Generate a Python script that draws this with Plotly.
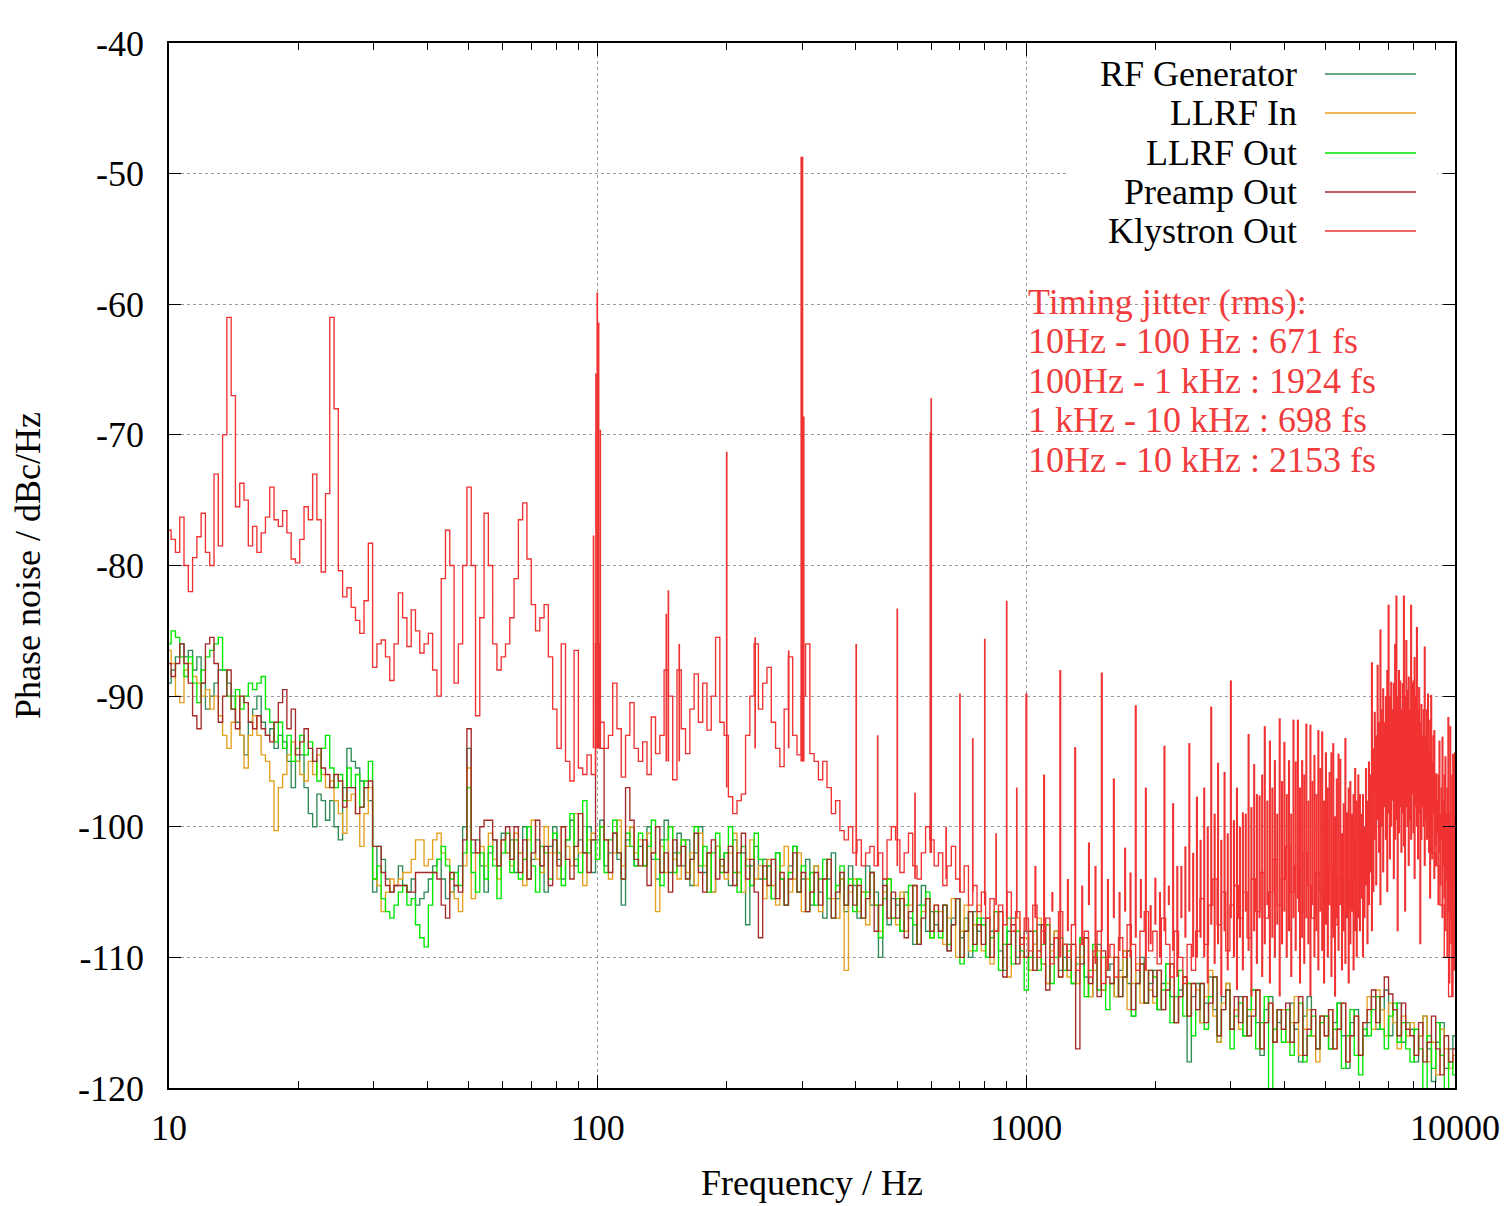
import plotly.graph_objects as go

# ---------------- data ----------------
# frequency grid (Hz): 0.01-decade steps, 10 Hz .. 10 kHz (301 points)
freq = [round(10 ** (1 + k / 100), 4) for k in range(301)]

rf_generator = [
 -89, -88, -87, -86, -87, -86.5, -88, -87, -89, -91,
 -90, -89, -88, -88, -89, -90, -92, -93, -94.5, -92,
 -91, -90, -92, -93, -92.5, -94, -93, -93.5, -95, -97,
 -95, -94.5, -97, -99, -100, -97.5, -98, -99.5, -98, -100,
 -101, -97, -94, -95, -95.5, -96.5, -97, -98, -105, -101.5,
 -102.5, -104, -105, -104.5, -103, -104.5, -105, -104, -106, -105.5,
 -105, -104, -103, -102.5, -104, -105.5, -105, -104.5, -103, -100,
 -94, -102, -101, -103, -105, -102, -101, -103, -100.5, -102,
 -101, -103.5, -102, -100, -104, -102.5, -101, -103, -105, -101.5,
 -100, -102.5, -104, -101, -99.5, -103, -101, -102, -100, -103.5,
 -101, -99.5, -103, -102, -100.5, -102.5, -106, -101, -100, -103,
 -101.5, -103, -100, -102.5, -104, -101, -99.5, -103.5, -102, -100.5,
 -103, -101, -104.5, -102, -100, -103.5, -102, -105, -101.5, -103,
 -102, -104.5, -101, -103.5, -102, -107.5, -103, -101.5, -104, -102.5,
 -103, -105.5, -102, -104, -106, -103, -101.5, -105, -104, -102.5,
 -106, -103, -105, -107, -104, -102, -105.5, -104, -106.5, -103,
 -104.5, -107, -105, -103, -106, -105, -110, -104, -107.5, -105.5,
 -106, -108, -105, -107, -109, -106, -104.5, -108, -106.5, -107.5,
 -108, -106, -109.5, -107, -105.5, -108.5, -107, -110, -106.5, -108,
 -107, -110, -108, -106.5, -109.5, -111, -108, -107, -110, -109,
 -108, -111, -109, -107.5, -110.5, -112, -109, -108, -111, -110,
 -109, -112, -110, -108.5, -111.5, -113, -110, -109, -112.5, -111,
 -110.5, -113, -111, -109.5, -112, -114.5, -111, -110, -113.5, -112,
 -111, -114, -112, -110.5, -113, -115, -112.5, -111.5, -118, -113,
 -112, -115, -113.5, -111.5, -114, -116.5, -113, -112, -115.5, -114,
 -113, -116, -114.5, -112.5, -115, -117.5, -114, -113, -116.5, -115,
 -114, -116.5, -113.5, -115.5, -118, -114.5, -113, -116, -117, -114.5,
 -114.5, -117, -115, -113.5, -116, -118.5, -115, -114, -117.5, -116,
 -115, -113, -115.5, -114, -112.5, -116, -114, -113.5, -116.5, -115,
 -115.5, -118, -116, -114.5, -117, -119.5, -116.5, -115, -118.5, -117,
 -116]

llrf_in = [
 -86.5, -87.5, -90, -90.5, -88, -87.5, -88.5, -89, -90, -89.5,
 -91, -90, -91.5, -93, -94, -92, -90, -93, -95.5, -93,
 -91.5, -93, -94.5, -95, -96.5, -100.3, -97, -96, -94.5, -93.5,
 -95, -96, -96.5, -95, -96, -94.5, -96, -97, -96.5, -98,
 -99, -100.5, -98, -97.5, -99, -101.5, -99, -97, -104, -104.5,
 -106.5, -105, -104, -104.5, -104, -103.5, -103.5, -102.5, -101, -101,
 -103, -102.5, -101, -100.5, -102, -102.5, -105, -105.5, -106.5, -103,
 -95.5, -105.5, -102, -101.5, -103, -100.5, -102.5, -104, -101, -102,
 -103, -100.5, -102, -104.5, -101, -99.5, -102.5, -103.5, -100, -102,
 -102, -104, -100, -101.5, -103, -99, -102, -104.5, -101, -100.5,
 -102.5, -100, -101, -104, -102, -99.5, -103, -101.5, -100, -102,
 -101, -103, -100.5, -102, -106.5, -101.5, -103.5, -100, -102.5, -104,
 -101, -103.5, -102, -104.5, -100.5, -103, -102, -105, -101.5, -103,
 -104, -102, -100.5, -103.5, -105, -102.5, -101, -104, -103, -105.5,
 -102.5, -104.5, -106, -103, -101.5, -105, -104, -102, -106.5, -104,
 -105, -103, -106.5, -104, -102.5, -105.5, -107, -104, -111, -105,
 -104, -106.5, -105, -107.5, -103.5, -106, -108, -105, -104, -107,
 -107.5, -105, -108, -106, -104.5, -109, -106.5, -105.5, -108.5, -106,
 -106.5, -109, -107, -105.5, -110, -108, -106, -109.5, -107.5, -106,
 -109.5, -107, -110.5, -108, -106.5, -109, -111.5, -108, -107, -110,
 -108.5, -111, -109, -107, -110.5, -112, -109.5, -108, -111.5, -109,
 -111.5, -109, -112, -110, -108.5, -113, -111, -109.5, -112.5, -110,
 -110, -113, -111.5, -109.5, -114, -112, -110.5, -113.5, -111, -112.5,
 -113.5, -111, -114, -112, -110.5, -115, -113, -111.5, -114.5, -112,
 -112.5, -115, -113, -111, -114.5, -116.5, -113.5, -112, -115.5, -114,
 -115.5, -113, -116, -114, -112.5, -117, -115, -113.5, -116.5, -114,
 -114, -116.5, -115, -113, -117.5, -115.5, -114, -116, -118, -114.5,
 -116, -114, -117, -115.5, -113.5, -118, -116, -114.5, -117.5, -115,
 -113, -115.5, -112.5, -114, -116, -113.5, -115, -117, -114.5, -116,
 -115, -117.5, -116, -114.5, -118, -116.5, -119, -115.5, -117, -118.5,
 -117.5]

llrf_out = [
 -86, -85, -85.5, -87, -88.5, -87, -89, -90.5, -88, -87,
 -86.5, -86, -85.5, -88, -90, -91, -89.5, -91, -90, -89,
 -89.5, -89, -88.5, -91, -92, -93.5, -92, -94, -93, -95,
 -94, -93, -94.5, -93.5, -95, -96.5, -94, -93, -95.5, -97,
 -96, -98, -95.5, -97, -96, -98.5, -96.5, -95, -104, -103,
 -105.5, -106.5, -107, -106, -105, -104.5, -106, -105.5, -107.5, -108.5,
 -109.2, -106, -103.5, -102.5, -101.5, -103, -104, -103.5, -104.5, -102,
 -97, -103.5, -105, -102, -104, -101.5, -103, -105.5, -102, -100.5,
 -103.5, -101, -104, -102.5, -100, -103, -105, -101.5, -102, -104,
 -100.5, -102, -104.5, -101, -99, -102.5, -103.5, -98, -102, -101,
 -102.5, -100, -103.5, -101, -99.5, -102, -104, -100.5, -101.5, -103,
 -100.5, -103, -101.5, -99.5, -102.5, -104.5, -101, -100, -103.5, -102,
 -101, -104, -102.5, -100, -103, -101.5, -105, -102, -100.5, -103.5,
 -102, -100, -103.5, -105, -101.5, -103, -104.5, -100.5, -102.5, -104,
 -103, -105.5, -102, -104, -106, -103.5, -101.5, -105, -103, -106.5,
 -103.5, -106, -104, -102.5, -105.5, -107, -104.5, -103, -106, -104,
 -106.5, -104, -107, -105, -103.5, -106, -108.5, -105.5, -104, -107,
 -105.5, -108, -106, -104.5, -107.5, -109, -106, -105, -108.5, -106.5,
 -108.5, -106, -109, -107.5, -105.5, -110.5, -108, -106.5, -109.5, -107,
 -107.5, -110, -108.5, -106.5, -111, -109, -107, -110.5, -108, -109.5,
 -112.5, -110, -108, -111, -109, -107.5, -112, -110, -108.5, -111,
 -109.5, -112, -110.5, -108.5, -113, -111, -109, -112.5, -110, -114,
 -112, -110, -113, -111.5, -109.5, -114.5, -112, -110.5, -113.5, -111,
 -111.5, -114, -112.5, -110.5, -115, -113, -111, -114.5, -112, -116,
 -114, -112, -115.5, -113, -111.5, -116, -114, -112.5, -117, -114.5,
 -113.5, -116, -114, -112.5, -117, -115, -113, -121, -115.5, -114,
 -116.5, -114, -117.5, -115, -113.5, -118, -116, -114.5, -117, -115,
 -114.5, -117, -115.5, -113.5, -118.5, -116, -114, -117.5, -119, -115.5,
 -116, -114, -113, -115.5, -117, -114.5, -113.5, -116.5, -115, -117,
 -118, -115.5, -117, -121, -116, -118.5, -115, -117.5, -121, -118,
 -119]

preamp_out = [
 -87.5, -88.5, -87.5, -86, -87.5, -89, -91.5, -92.5, -89, -86,
 -85.5, -87.5, -92, -90, -88, -91, -92.5, -90, -90.5, -92,
 -92.5, -91.5, -92.5, -93, -93.5, -92, -90.5, -89.5, -92.5, -91,
 -94.5, -93.5, -92.5, -94, -95, -94, -95.5, -96, -97, -96,
 -96.5, -98.5, -97, -97, -99, -98.5, -97, -96.5, -101.5, -101.5,
 -103.5, -104.5, -105, -104.5, -104.5, -104.5, -105, -105, -103.5, -103.5,
 -103.5, -103.5, -103.5, -104, -106, -107, -103.5, -104.5, -105, -101,
 -92.5, -101, -102, -100, -99.5, -99.5, -101, -103, -101, -100,
 -102.5, -100, -103.5, -101, -104, -102, -99.5, -103, -101.5, -104.5,
 -101, -103, -100, -102.5, -104, -101.5, -99, -102, -103.5, -101,
 -86, -94, -101, -103.5, -100.5, -102, -104, -97, -99.5, -102.5,
 -103, -101, -104.5, -102, -100, -103.5, -102, -105, -101, -103,
 -101.5, -104, -102.5, -100.5, -103.5, -105, -102, -101, -104, -102.5,
 -103.5, -101.5, -104.5, -102, -100.5, -104, -102.5, -105, -108.5, -103,
 -104.5, -102.5, -105.5, -103.5, -106, -104, -102, -105, -103.5, -106.5,
 -105, -103.5, -106, -104, -102.5, -107, -105, -103.5, -106, -104.5,
 -106, -104.5, -107, -105.5, -103.5, -108, -106, -104.5, -107, -105,
 -107, -105.5, -108.5, -106.5, -104.5, -109, -107, -105.5, -108, -106,
 -108, -106, -109.5, -107.5, -105.5, -110, -108, -106.5, -109, -107.5,
 -109, -107, -110, -108, -106.5, -111.5, -109, -107.5, -110.5, -108.5,
 -110, -108, -111, -109.5, -107.5, -112.5, -110, -108.5, -111.5, -109,
 -111, -109, -117, -110.5, -108.5, -112, -110, -113, -109.5, -111.5,
 -112, -110, -113, -111.5, -109.5, -114, -112, -110.5, -113.5, -111,
 -113, -111, -114, -112.5, -110.5, -115, -113, -111.5, -114.5, -112,
 -114, -112, -115, -113.5, -111.5, -116, -114, -112.5, -115.5, -113,
 -115, -113, -116, -114.5, -112.5, -117, -115, -113.5, -116.5, -114,
 -115.5, -113.5, -116.5, -115, -113, -117.5, -115.5, -114, -117, -114.5,
 -116, -114, -117, -115.5, -113.5, -118, -116, -114.5, -117.5, -115,
 -114, -112.5, -115, -113, -111.5, -112.8, -114, -116, -113.5, -115.5,
 -116, -117.5, -115, -118, -116.5, -114.5, -117, -119, -116, -118,
 -117]

klystron_out = [
 -77.3, -78, -79, -76.3, -80, -82, -79.4, -77.8, -76, -79,
 -80, -73, -78.5, -70, -61, -67, -75.5, -73.7, -75, -78.5,
 -77, -79, -77.5, -76.3, -74, -76.5, -77, -75.8, -77.5, -79.5,
 -79.8, -78, -75.5, -76.5, -73, -76.5, -80.5, -74.5, -61, -68,
 -80.4, -82.4, -81.7, -83.2, -84.2, -85.2, -82.7, -78.3, -87.8, -86,
 -85.7, -87, -88.8, -86, -82.1, -84, -86.2, -83.4, -85, -86.7,
 -86, -85.2, -88, -90, -81, -77.3, -80, -89, -86, -80,
 -74, -80, -91.5, -84, -76, -80, -86, -88, -87, -86,
 -84, -81, -76.5, -75.2, -79.5, -83, -85, -84, -83, -87,
 -91, -94, -86, -95, -96.5, -86.5, -95.5, -96, -94.5, -96,
 -93, -92, -94, -93, -89, -92.5, -96.2, -93, -90.5, -94,
 -95, -93.5, -96, -91.6, -94.4, -93, -88, -90, -96.4, -88,
 -92.5, -94.4, -91, -88.3, -92, -89, -92.6, -90, -85.5, -92,
 -93, -97.7, -99, -98, -97.5, -93, -90, -86, -91, -89,
 -87.8, -92, -94, -95.4, -91, -87, -93, -94.5, -90, -86,
 -94.4, -95, -96.4, -95, -97, -99, -98, -100.3, -101, -100,
 -102, -101, -103, -102, -101.5, -103, -102, -104, -101, -100,
 -101, -103.5, -102, -100.5, -103, -104, -102, -100, -101, -103,
 -102, -104.5, -103, -101.5, -104, -105, -103, -106, -104.5, -106.5,
 -105, -107, -105.5, -108, -106, -107.5, -105, -108, -106.5, -109,
 -107, -109.5, -106, -110, -108, -107, -110.5, -108.5, -106.5, -109,
 -110, -107.5, -111, -109, -108, -111.5, -109.5, -108, -112, -110,
 -109, -111.5, -108.5, -110, -107.5, -109, -111, -108, -106.5, -109.5,
 -108, -110.5, -107, -109, -111.5, -108, -110, -112, -109, -111,
 -108, -105.5, -109, -106, -104, -107.5, -105, -109.5, -106, -104.5,
 -107, -105, -108.5, -104, -106.5, -103.5, -107, -105, -102.5, -106,
 -104, -101.5, -105, -103, -106.5, -102, -104.5, -107, -103.5, -105,
 -106, -103, -107.5, -104, -102.5, -106, -104, -101, -103.5, -100.5,
 -99, -97, -95, -96.5, -93.5, -95, -92.5, -94, -93, -95.5,
 -94, -96.5, -98, -97, -100, -102, -103, -106, -110, -113,
 -104]

# Klystron narrow lines below 1 kHz (Hz, top dB, foot dB)
kly_line_f = [97.8, 99.1, 99.8, 100.5, 101.4, 144.6, 146.2, 155, 200, 233, 279,
              298.5, 300.5, 302.5, 401, 450, 500, 550, 597, 600, 650, 700, 750,
              800, 850, 900, 950]
kly_line_top = [-77.7, -65.3, -59.1, -61.4, -69.6, -83.7, -81.9, -86, -71.3, -85.5, -86.5,
                -48.7, -48.7, -68.6, -86, -93, -83.3, -97.4, -69.8, -67.2, -100, -89.8, -93.2,
                -85.6, -100.5, -82.7, -97]
kly_line_bot = [-94, -94, -94, -94, -94, -95, -95, -95, -97, -94, -94,
                -95, -95, -95, -103, -103, -103, -104, -102, -102, -104, -105, -105,
                -106, -106, -107, -107]

# Klystron 50 Hz harmonic lines, 1 kHz .. 10 kHz
kly_hf_f = list(range(1000, 10001, 50))
kly_hf_top = [
 -89.8, -103, -96, -105, -88, -104, -93.9, -104.5, -101.2, -103,
 -88.2, -104, -96.3, -105, -101.6, -103.5, -90.7, -104, -97, -106,
 -103.9, -105, -93.8, -104.5, -98.2, -103, -103, -101.5, -93.6, -102,
 -97.7, -101, -97, -100, -90.8, -99, -95.1, -101, -95.8, -100.5,
 -88.8, -99.5, -97, -100, -98.9, -99, -92.9, -98.5, -95.2, -97.5,
 -97.6, -96, -92.3, -98, -93.4, -97, -94.9, -99, -91.7, -96.5,
 -93.5, -97.5, -94.9, -99, -91.8, -95, -91.8, -97, -94.9, -96,
 -92.1, -98, -92.2, -96.5, -94.5, -97.5, -92.6, -95.5, -92.7, -98,
 -94.3, -97, -95.8, -94.3, -93.6, -99.2, -96.3, -94.4, -94.8, -100.5,
 -98.2, -93.2, -98.9, -97, -96.5, -99, -97.5, -95.5, -98, -96,
 -97.5, -99, -97.5, -100, -95.5, -98, -95, -96, -87.4, -94,
 -91.2, -93, -87.6, -92, -84.9, -91, -89.4, -92, -90, -88,
 -83, -90, -88.9, -91, -89, -86, -82.3, -90, -88, -88.8,
 -91, -89, -82.3, -90, -85.7, -89.5, -88.5, -91, -83, -89,
 -88.8, -87, -90, -84.7, -91, -89.3, -92, -90.6, -93, -91,
 -86.2, -93, -91, -89.8, -94, -91.8, -89.9, -95, -93, -92.6,
 -96, -95.9, -98, -96, -93.4, -99, -97, -93.1, -98, -96,
 -94.6, -99, -97, -91.6, -99, -92.3, -100, -96, -94.4, -98, -94.3]
kly_hf_bot = [
 -108, -107, -109, -106.5, -110, -108, -107.5, -109, -106, -110.5,
 -108, -111, -107, -109.5, -106.5, -110, -108.5, -107, -111, -109,
 -107.5, -110, -108, -106, -109.5, -111.5, -107, -108.5, -106.5, -110,
 -110, -108.5, -110, -112, -107.5, -110.5, -109, -113, -108, -111,
 -107, -110, -112.5, -108.5, -111, -106.5, -109.5, -113, -108, -110.5,
 -107, -111.5, -109, -106, -112, -108.5, -110, -107.5, -113, -109,
 -106.5, -110, -108, -111.5, -107, -109.5, -105.5, -112, -108.5, -110.5,
 -107, -109, -113, -106, -110, -108, -111, -106.5, -109.5, -112,
 -107.5, -110, -106, -111.5, -108.5, -113, -107, -109.5, -106, -111,
 -108, -110.5, -107, -112, -109, -106.5, -111, -108, -110, -107,
 -108, -105.5, -110, -107, -104.5, -109, -106, -103.5, -108, -105,
 -101, -104.5, -99.5, -102, -106, -100, -103.5, -98.5, -101, -105,
 -99, -102.5, -100, -98, -104, -101, -99.5, -108, -100.5, -98.5,
 -102, -99, -101.5, -106.5, -98.5, -100, -103, -99.5, -101, -97.5,
 -100.5, -104, -98.5, -100, -102.5, -99, -109, -101, -98.5, -100,
 -103, -99.5, -101, -98, -102, -105.5, -100, -102.5, -99, -104,
 -101.5, -103, -100.5, -106, -102, -104.5, -101, -107, -103, -105.5,
 -108, -104, -110, -106.5, -112, -107, -109, -113, -105, -111, -104]

legend_names = ["RF Generator", "LLRF In", "LLRF Out", "Preamp Out", "Klystron Out"]
colors = ["#2e8b57", "#e6a020", "#00e800", "#a52a2a", "#f03232"]
jitter_lines = ["Timing jitter (rms):", "10Hz - 100 Hz : 671 fs",
                "100Hz - 1 kHz : 1924 fs", "1 kHz - 10 kHz : 698 fs",
                "10Hz - 10 kHz : 2153 fs"]
x_ticks = [10, 100, 1000, 10000]
x_ticktext = ["10", "100", "1000", "10000"]
y_ticks = [-120, -110, -100, -90, -80, -70, -60, -50, -40]
y_ticktext = ["-120", "-110", "-100", "-90", "-80", "-70", "-60", "-50", "-40"]

series = [rf_generator, llrf_in, llrf_out, preamp_out, klystron_out]
for nm, s in zip(legend_names, series):
    assert len(s) == len(freq), (nm, len(s))
assert len(kly_hf_top) == len(kly_hf_f) == len(kly_hf_bot), (len(kly_hf_top), len(kly_hf_bot))
assert len(kly_line_f) == len(kly_line_top) == len(kly_line_bot)

# ---------------- figure ----------------
FONT = "Liberation Serif"
fig = go.Figure()
for nm, s, c in zip(legend_names, series, colors):
    fig.add_trace(go.Scatter(x=freq, y=s, mode="lines", name=nm,
                             line=dict(color=c, width=1.35, shape="hvh"),
                             showlegend=False, legendgroup=nm))

lx, ly = [], []
for f, b, t in zip(kly_line_f, kly_line_bot, kly_line_top):
    lx += [f, f, None]
    ly += [b, t, None]
fig.add_trace(go.Scatter(x=lx, y=ly, mode="lines", name="Klystron Out",
                         line=dict(color=colors[4], width=1.7),
                         showlegend=False, legendgroup="Klystron Out"))
hx, hy = [], []
for f, b, t in zip(kly_hf_f, kly_hf_bot, kly_hf_top):
    hx += [f, f, None]
    hy += [b, t, None]
fig.add_trace(go.Scatter(x=hx, y=hy, mode="lines", name="Klystron Out",
                         line=dict(color=colors[4], width=2.1),
                         showlegend=False, legendgroup="Klystron Out"))

L, R, T, B = 169, 53, 43, 118
W, H = 1508, 1206
pw, ph = W - L - R, H - T - B
def px(x):
    return (x - L) / pw
def py(y):
    return (H - B - y) / ph

# white key box (hides the grid behind the key), then key samples
shapes = [dict(type="rect", xref="paper", yref="paper", x0=px(1067), x1=px(1437),
               y0=py(252), y1=py(55), fillcolor="white", line=dict(width=0), layer="above")]
annotations = []
leg_y = [74, 113, 153, 192, 231]
for nm, c, yy in zip(legend_names, colors, leg_y):
    annotations.append(dict(xref="paper", yref="paper", x=px(1299), y=py(yy), text=nm,
                            showarrow=False, xanchor="right", yanchor="middle",
                            font=dict(family=FONT, size=36, color="black")))
    shapes.append(dict(type="line", xref="paper", yref="paper", x0=px(1325), x1=px(1416),
                       y0=py(yy), y1=py(yy), line=dict(color=c, width=1.5), layer="above"))
jit_y = [302, 341, 381, 420, 460]
for txt, yy in zip(jitter_lines, jit_y):
    annotations.append(dict(xref="paper", yref="paper", x=px(1026), y=py(yy), text=txt,
                            showarrow=False, xanchor="left", yanchor="middle",
                            font=dict(family=FONT, size=36, color="#f03c3c")))

minor_vals = [m * d for d in (10, 100, 1000) for m in range(2, 10)]
fig.update_xaxes(type="log", range=[1, 4], tickvals=x_ticks, ticktext=x_ticktext,
                 ticks="inside", ticklen=13, tickwidth=1.2, tickcolor="black",
                 showline=True, linecolor="black", linewidth=1.5, mirror="allticks",
                 showgrid=True, gridcolor="#9a9a9a", griddash="dot", gridwidth=1,
                 zeroline=False, ticklabelstandoff=7,
                 minor=dict(tickvals=minor_vals, ticks="inside", ticklen=7,
                            tickcolor="black", tickwidth=1.2, showgrid=False),
                 title=dict(text="Frequency / Hz", standoff=23,
                            font=dict(family=FONT, size=36, color="black")),
                 tickfont=dict(family=FONT, size=36, color="black"))
fig.update_yaxes(range=[-120, -40], tickvals=y_ticks, ticktext=y_ticktext,
                 ticks="inside", ticklen=12, tickwidth=1.2, tickcolor="black",
                 showline=True, linecolor="black", linewidth=1.5, mirror="allticks",
                 showgrid=True, gridcolor="#9a9a9a", griddash="dot", gridwidth=1,
                 zeroline=False, ticklabelstandoff=16,
                 title=dict(text="Phase noise / dBc/Hz", standoff=26,
                            font=dict(family=FONT, size=36, color="black")),
                 tickfont=dict(family=FONT, size=36, color="black"))
fig.update_layout(width=W, height=H, margin=dict(l=L, r=R, t=T, b=B, autoexpand=False),
                  paper_bgcolor="white", plot_bgcolor="white", showlegend=False,
                  font=dict(family=FONT, size=36, color="black"),
                  shapes=shapes, annotations=annotations)
fig.write_html("out.html", config={"displayModeBar": False},
               post_script="document.body.style.margin='0px';document.body.style.overflow='hidden';")
